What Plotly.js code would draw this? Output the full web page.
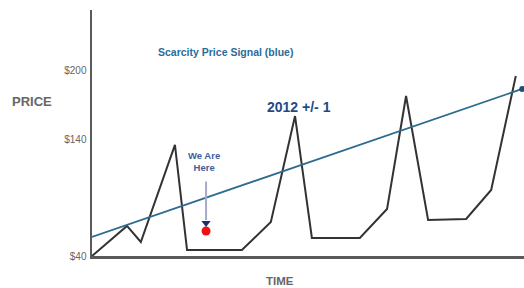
<!DOCTYPE html>
<html>
<head>
<meta charset="utf-8">
<script src="https://cdn.plot.ly/plotly-3.0.1.min.js"></script>
<style>html,body{margin:0;padding:0;background:#fff;}#chart{width:524px;height:288px;}</style>
</head>
<body>
<div id="chart"></div>
<script>
// Time axis (0-100 relative units) and price values
const time = [0, 8.1, 11.3, 19.2, 22, 34.7, 41.4, 47, 50.9, 62, 68.3, 72.7, 77.8, 86.6, 92.4, 98.1];
const price = [40, 65.9, 52.1, 135.7, 45.2, 45.2, 69.3, 160.6, 55.5, 55.5, 80.5, 177.9, 71, 71.9, 96.9, 195.1];
// Scarcity price signal (blue trend line)
const signalTime = [0, 99.6];
const signalPrice = [56.4, 184];
// "We Are Here" point
const hereTime = [26.4];
const herePrice = [61.5];
const headPrice = [68.5];
// Tick labels
const tickVals = [40, 140, 200];
const tickText = ['$40', '$140', '$200'];

const traces = [
  {x: time, y: price, mode: 'lines', line: {color: '#333333', width: 2}, hoverinfo: 'skip'},
  {x: signalTime, y: signalPrice, mode: 'lines', line: {color: '#2f6a8f', width: 1.8}, hoverinfo: 'skip'},
  {x: [signalTime[1]], y: [signalPrice[1]], mode: 'markers', marker: {color: '#1f4e7a', size: 6, symbol: 'circle'}, hoverinfo: 'skip'},
  {x: hereTime, y: herePrice, mode: 'markers', marker: {color: '#ee1111', size: 9}, hoverinfo: 'skip'},
  {x: hereTime, y: headPrice, mode: 'markers', marker: {color: '#1a2f6e', size: 8, symbol: 'triangle-down'}, hoverinfo: 'skip'}
];

const F = 'Liberation Sans, Arial';
const layout = {
  width: 524, height: 288,
  margin: {l: 92, r: 0, t: 10, b: 32},
  paper_bgcolor: '#ffffff', plot_bgcolor: '#ffffff',
  showlegend: false,
  xaxis: {range: [0, 100], showgrid: false, zeroline: false, showticklabels: false, ticks: '',
          showline: true, linecolor: '#5a5a5a', linewidth: 2.5, fixedrange: true},
  yaxis: {range: [40, 252], showgrid: false, zeroline: false, tickvals: tickVals, ticktext: tickText,
          ticks: '', ticklabelstandoff: 1, tickfont: {family: F, size: 10, color: '#666666'},
          showline: true, linecolor: '#5a5a5a', linewidth: 2.5, fixedrange: true},
  annotations: [
    {xref: 'paper', yref: 'paper', x: -0.14, y: 0.63, xanchor: 'center', yanchor: 'middle', text: '<b>PRICE</b>', showarrow: false,
     font: {family: F, size: 13, color: '#666666'}},
    {xref: 'paper', yref: 'paper', x: 0.435, y: -0.102, xanchor: 'center', yanchor: 'middle', text: '<b>TIME</b>', showarrow: false,
     font: {family: F, size: 11.5, color: '#666666'}},
    {xref: 'paper', yref: 'paper', x: 0.31, y: 0.83, xanchor: 'center', yanchor: 'middle', text: '<b>Scarcity Price Signal (blue)</b>', showarrow: false,
     font: {family: F, size: 10.5, color: '#2b6c97'}},
    {xref: 'paper', yref: 'paper', x: 0.48, y: 0.605, xanchor: 'center', yanchor: 'middle', text: '<b>2012 +/- 1</b>', showarrow: false,
     font: {family: F, size: 14, color: '#1f4a86'}},
    {xref: 'x', yref: 'y', x: 25.9, y: 121.4, xanchor: 'center', yanchor: 'middle', text: '<b>We Are<br>Here</b>', showarrow: false,
     font: {family: F, size: 9.5, color: '#3b5f9a'}},
    {xref: 'x', yref: 'y', x: 26.4, y: 71, ax: 0, ay: -40, axref: 'pixel', ayref: 'pixel', text: '',
     showarrow: true, arrowhead: 0, arrowwidth: 2, arrowcolor: '#a4abc6'}
  ]
};

Plotly.newPlot('chart', traces, layout, {displayModeBar: false, staticPlot: true});
</script>
</body>
</html>
